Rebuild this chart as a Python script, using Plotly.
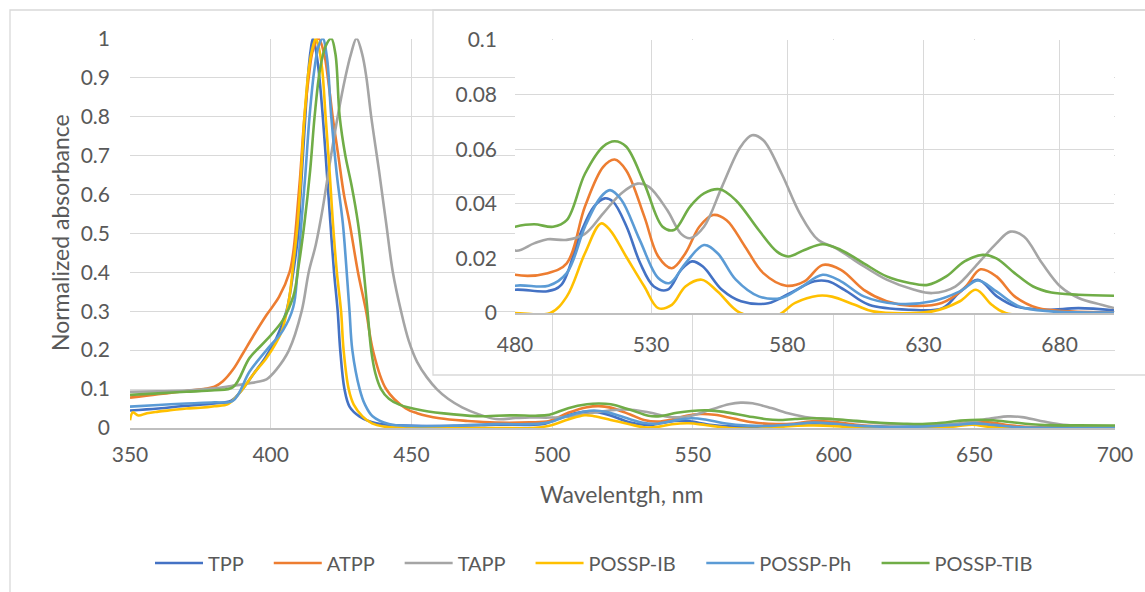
import plotly.graph_objects as go

# ---------------- data ----------------
series_names = ["TPP", "ATPP", "TAPP", "POSSP-IB", "POSSP-Ph", "POSSP-TIB"]
series_colors = ["#4472C4", "#ED7D31", "#A5A5A5", "#FFC000", "#5B9BD5", "#70AD47"]

tpp_wl = [350, 360, 370, 380, 386, 390, 394, 398, 402, 405.6, 408, 409.8, 410.6, 412.3, 413.2, 414.2, 415,
          415.8, 417, 418.5, 420, 421.2, 422.5, 423.8, 424.7, 426.2, 428, 431.5, 437.5, 445, 460, 475,
          480, 492, 497, 504, 509, 513, 516, 521, 526, 531, 536, 541, 545, 549, 556, 563, 573, 581, 590,
          595, 601, 610, 625, 637, 643, 650, 657, 664, 675, 687, 700]
tpp_abs = [0.045, 0.05, 0.057, 0.063, 0.07, 0.1, 0.14, 0.18, 0.23, 0.3, 0.4, 0.5, 0.6, 0.8, 0.9, 0.97, 1.0,
           0.98, 0.92, 0.8, 0.65, 0.527, 0.4, 0.3, 0.2, 0.1, 0.055, 0.03, 0.012, 0.007, 0.005, 0.007,
           0.0085, 0.008, 0.0103, 0.029, 0.039, 0.042, 0.0408, 0.0316, 0.0182, 0.0097, 0.0085, 0.0158,
           0.0189, 0.017, 0.0085, 0.0043, 0.0036, 0.0073, 0.0116, 0.0116, 0.0085, 0.003, 0.0012, 0.0018,
           0.0073, 0.0122, 0.0061, 0.0024, 0.0012, 0.0018, 0.001]

atpp_wl = [350, 360, 370, 380, 383, 386.6, 390, 393.7, 398.5, 403, 406.7, 408, 409.1, 410.5, 412, 413.5, 415,
           417, 419, 420.3, 422, 424, 426, 428, 431, 433.9, 436.3, 441, 448, 452, 460, 470, 480, 492, 499,
           505.7, 512.4, 516.6, 520.8, 527.5, 532.6, 537.6, 542.6, 547.7, 552.7, 557.7, 564.5, 571.2, 579.6,
           586.3, 593, 599.7, 608.1, 616.5, 625, 636.7, 645, 651, 656.8, 663.5, 672, 683.7, 700]
atpp_abs = [0.078, 0.087, 0.095, 0.106, 0.12, 0.15, 0.19, 0.235, 0.29, 0.337, 0.4, 0.45, 0.527, 0.65, 0.8, 0.9,
            0.97, 1.0, 0.96, 0.9, 0.8, 0.7, 0.6, 0.527, 0.4, 0.3, 0.2, 0.1, 0.05, 0.038, 0.025, 0.018, 0.014,
            0.0146, 0.0182, 0.039, 0.0535, 0.0562, 0.0523, 0.0353, 0.0207, 0.0164, 0.0219, 0.0316, 0.0359,
            0.034, 0.0243, 0.0146, 0.01, 0.0116, 0.0176, 0.0158, 0.0085, 0.0043, 0.0027, 0.0037, 0.0091,
            0.016, 0.0134, 0.0061, 0.0018, 0.0006, 0.0002]

tapp_wl = [350, 360, 370, 380, 386, 390, 395, 398.5, 402, 406.5, 411, 413.5, 416, 418.5, 421, 423.8, 426.5,
           428.5, 430.5, 432.5, 434, 435.7, 438.5, 441, 443.4, 446.3, 449, 452, 455.5, 459, 463, 468, 474,
           480, 487, 492, 499, 505.7, 512.4, 519, 525, 529.2, 535.9, 541, 544.3, 549.4, 556, 562.8, 567,
           571.2, 577.9, 584.6, 591.3, 598, 606.4, 616.5, 626.6, 633.3, 641.7, 650.1, 656.8, 661.9, 666.9,
           673.6, 680.3, 687, 695.4, 700]
tapp_abs = [0.093, 0.094, 0.096, 0.102, 0.108, 0.112, 0.118, 0.125, 0.15, 0.2, 0.3, 0.4, 0.47, 0.565, 0.68,
            0.8, 0.9, 0.96, 1.0, 0.96, 0.9, 0.8, 0.66, 0.527, 0.4, 0.3, 0.225, 0.17, 0.13, 0.1, 0.075, 0.053,
            0.035, 0.0229, 0.0255, 0.027, 0.0268, 0.029, 0.0365, 0.0438, 0.0474, 0.0462, 0.0377, 0.029, 0.0274,
            0.0316, 0.0462, 0.0608, 0.0651, 0.0633, 0.0511, 0.0365, 0.0268, 0.0237, 0.0182, 0.0122, 0.0085,
            0.0073, 0.0097, 0.0182, 0.0255, 0.0298, 0.028, 0.0182, 0.0097, 0.0055, 0.003, 0.0018]

ib_wl = [350, 351, 353, 356, 360, 365, 370, 375, 380, 385, 390, 394, 398.5, 402, 404, 406.5, 408, 409.6, 411,
         412, 413.5, 415, 416, 417, 418.3, 419.5, 421, 422.1, 423.5, 425, 425.9, 427.7, 429.5, 432.6, 436,
         440, 450, 465, 480, 493, 499, 505.7, 511.6, 514.9, 520.8, 527.5, 532.6, 537.6, 542.6, 548.6, 554.4,
         562.8, 576, 582.9, 591.3, 596.4, 604.8, 611.5, 633.3, 643.4, 649.3, 655.1, 660.2, 700]
ib_abs = [0.02, 0.04, 0.032, 0.038, 0.042, 0.046, 0.05, 0.052, 0.056, 0.062, 0.1, 0.14, 0.18, 0.22, 0.25, 0.33,
          0.42, 0.527, 0.68, 0.8, 0.92, 0.98, 1.0, 0.98, 0.92, 0.8, 0.65, 0.527, 0.4, 0.3, 0.2, 0.1, 0.06,
          0.03, 0.012, 0.004, 0.001, 0.0, 0.0, 0.0, 0.006, 0.0219, 0.0328, 0.0304, 0.0207, 0.0097, 0.0018,
          0.003, 0.0097, 0.0122, 0.0079, 0.0, -0.001, 0.0037, 0.0063, 0.006, 0.003, 0.0006, 0.0006, 0.0043,
          0.0085, 0.003, 0.0, -0.001]

ph_wl = [350, 360, 370, 380, 386.6, 392.5, 398.5, 404.3, 408, 409.5, 410.9, 412.3, 413.8, 415.5, 417, 418.5,
         420, 421.5, 423.5, 425.6, 426.8, 428, 429, 431.6, 433.5, 436.2, 442, 450, 465, 480, 492.3, 499,
         505.7, 511.6, 514.9, 519.1, 525.8, 532.6, 536.8, 542.6, 549.4, 554.4, 561.1, 569.5, 577.9, 584.6,
         593, 599.7, 608.1, 620, 633.3, 643.4, 650.1, 656.8, 665.2, 677, 700]
ph_abs = [0.055, 0.059, 0.063, 0.066, 0.07, 0.145, 0.2, 0.25, 0.31, 0.4, 0.527, 0.65, 0.8, 0.92, 0.98, 1.0,
          0.95, 0.8, 0.65, 0.527, 0.42, 0.3, 0.2, 0.1, 0.06, 0.03, 0.01, 0.005, 0.006, 0.01, 0.01, 0.0146,
          0.0316, 0.0426, 0.045, 0.0414, 0.0268, 0.0128, 0.011, 0.0182, 0.0249, 0.0219, 0.0122, 0.0061,
          0.0055, 0.0091, 0.014, 0.0116, 0.0061, 0.0034, 0.0043, 0.0079, 0.0119, 0.0079, 0.0024, 0.0006,
          0.0002]

tib_wl = [350, 360, 370, 380, 386.6, 392.5, 398.5, 404.3, 408, 410, 412, 414, 415.6, 417.5, 419.5, 421.5, 423,
          424.5, 426.5, 428.8, 431, 432.8, 434.4, 435.7, 437.2, 439.2, 442, 445.7, 454, 465, 475, 480, 487,
          494, 499, 505.7, 512.4, 516.6, 520.8, 527.5, 534.2, 538.4, 544.3, 549.4, 555.2, 561, 569.5, 576.2,
          580.4, 586.3, 593, 599.7, 608.1, 616.5, 624.9, 631.6, 638.4, 645.1, 651.8, 656.8, 663.5, 670.3,
          677, 687, 700]
tib_abs = [0.085, 0.089, 0.093, 0.097, 0.105, 0.18, 0.226, 0.277, 0.337, 0.42, 0.527, 0.66, 0.8, 0.92, 0.98,
           1.0, 0.96, 0.8, 0.7, 0.62, 0.527, 0.42, 0.3, 0.2, 0.14, 0.1, 0.075, 0.06, 0.045, 0.035, 0.03,
           0.0316, 0.0325, 0.0316, 0.034, 0.051, 0.061, 0.0629, 0.061, 0.0474, 0.0316, 0.0304, 0.039, 0.0438,
           0.0453, 0.0414, 0.0304, 0.0225, 0.0207, 0.0231, 0.0252, 0.0231, 0.0182, 0.0134, 0.011, 0.0103,
           0.0134, 0.0189, 0.0213, 0.02, 0.0146, 0.0097, 0.0075, 0.0067, 0.0063]

series_wl = [tpp_wl, atpp_wl, tapp_wl, ib_wl, ph_wl, tib_wl]
series_abs = [tpp_abs, atpp_abs, tapp_abs, ib_abs, ph_abs, tib_abs]

main_x_ticks = [350, 400, 450, 500, 550, 600, 650, 700]
inset_x_ticks = [480, 530, 580, 630, 680]

# ---------------- layout geometry (pixels) ----------------
W, H = 1145, 592
def px_x(p):
    return p / W
def px_y(p):
    return 1 - p / H

FONT = "Lato, 'Open Sans', sans-serif"
TXT = "#595959"
GRID = "#d9d9d9"
PAD = "\u00a0" * 4   # extra gap after each legend entry

fig = go.Figure()
for name, col, wl, ab in zip(series_names, series_colors, series_wl, series_abs):
    fig.add_trace(go.Scatter(x=wl, y=ab, name=name + PAD, mode="lines",
                             line=dict(color=col, width=2.6, shape="spline", smoothing=1.0),
                             xaxis="x", yaxis="y", showlegend=True))
for name, col, wl, ab in zip(series_names, series_colors, series_wl, series_abs):
    fig.add_trace(go.Scatter(x=wl, y=ab, name=name, mode="lines",
                             line=dict(color=col, width=2.6, shape="spline", smoothing=1.0),
                             xaxis="x2", yaxis="y2", showlegend=False))

axis_common = dict(showgrid=True, gridcolor=GRID, gridwidth=1.3, zeroline=False,
                   tickfont=dict(family=FONT, size=21, color=TXT), ticks="",
                   fixedrange=True, automargin=False)

fig.update_layout(
    width=W, height=H,
    margin=dict(l=0, r=0, t=0, b=0, pad=0, autoexpand=False),
    paper_bgcolor="white", plot_bgcolor="white",
    font=dict(family=FONT, color=TXT),
    xaxis=dict(domain=[px_x(130), px_x(1115)], range=[350, 700], tickvals=main_x_ticks,
               anchor="y", ticklabelstandoff=7, showline=True, linecolor="#bfbfbf", linewidth=1.5,
               **axis_common),
    yaxis=dict(domain=[px_y(428), px_y(38.5)], range=[0, 1], dtick=0.1, tick0=0,
               anchor="x", ticklabelstandoff=19, showline=False, **axis_common),
    xaxis2=dict(domain=[px_x(515), px_x(1114)], range=[480, 700], tickvals=inset_x_ticks,
                anchor="y2", ticklabelstandoff=12, showline=True, linecolor="#bfbfbf", linewidth=1.5,
                **axis_common),
    yaxis2=dict(domain=[px_y(313), px_y(40)], range=[0, 0.1], dtick=0.02, tick0=0,
                anchor="x2", ticklabelstandoff=17, showline=False, **axis_common),
    legend=dict(orientation="h", x=px_x(150), xanchor="left", y=px_y(563), yanchor="middle",
                font=dict(family=FONT, size=20, color=TXT), bgcolor="rgba(0,0,0,0)",
                itemwidth=48, tracegroupgap=0),
    showlegend=True,
)

# cover main-plot gridlines where the inset sits
fig.add_shape(type="rect", xref="paper", yref="paper",
              x0=px_x(433), x1=1.02, y0=px_y(375), y1=px_y(5),
              fillcolor="white", line=dict(width=0), layer="between")
# inset frame
fig.add_shape(type="rect", xref="paper", yref="paper",
              x0=px_x(433), x1=1.02, y0=px_y(375), y1=px_y(10),
              fillcolor="rgba(0,0,0,0)", line=dict(color=GRID, width=1.3), layer="above")
# outer chart frame
fig.add_shape(type="rect", xref="paper", yref="paper",
              x0=px_x(10), x1=1.02, y0=-0.02, y1=px_y(10),
              fillcolor="rgba(0,0,0,0)", line=dict(color=GRID, width=1.3), layer="below")

fig.add_annotation(text="Normalized absorbance", xref="paper", yref="paper",
                   x=px_x(60), y=px_y(233), textangle=-90, showarrow=False,
                   font=dict(family=FONT, size=23, color=TXT), xanchor="center", yanchor="middle")
fig.add_annotation(text="Wavelentgh, nm", xref="paper", yref="paper",
                   x=px_x(622), y=px_y(494), showarrow=False,
                   font=dict(family=FONT, size=23, color=TXT), xanchor="center", yanchor="middle")

fig.write_html("out.html", config={"displayModeBar": False})
